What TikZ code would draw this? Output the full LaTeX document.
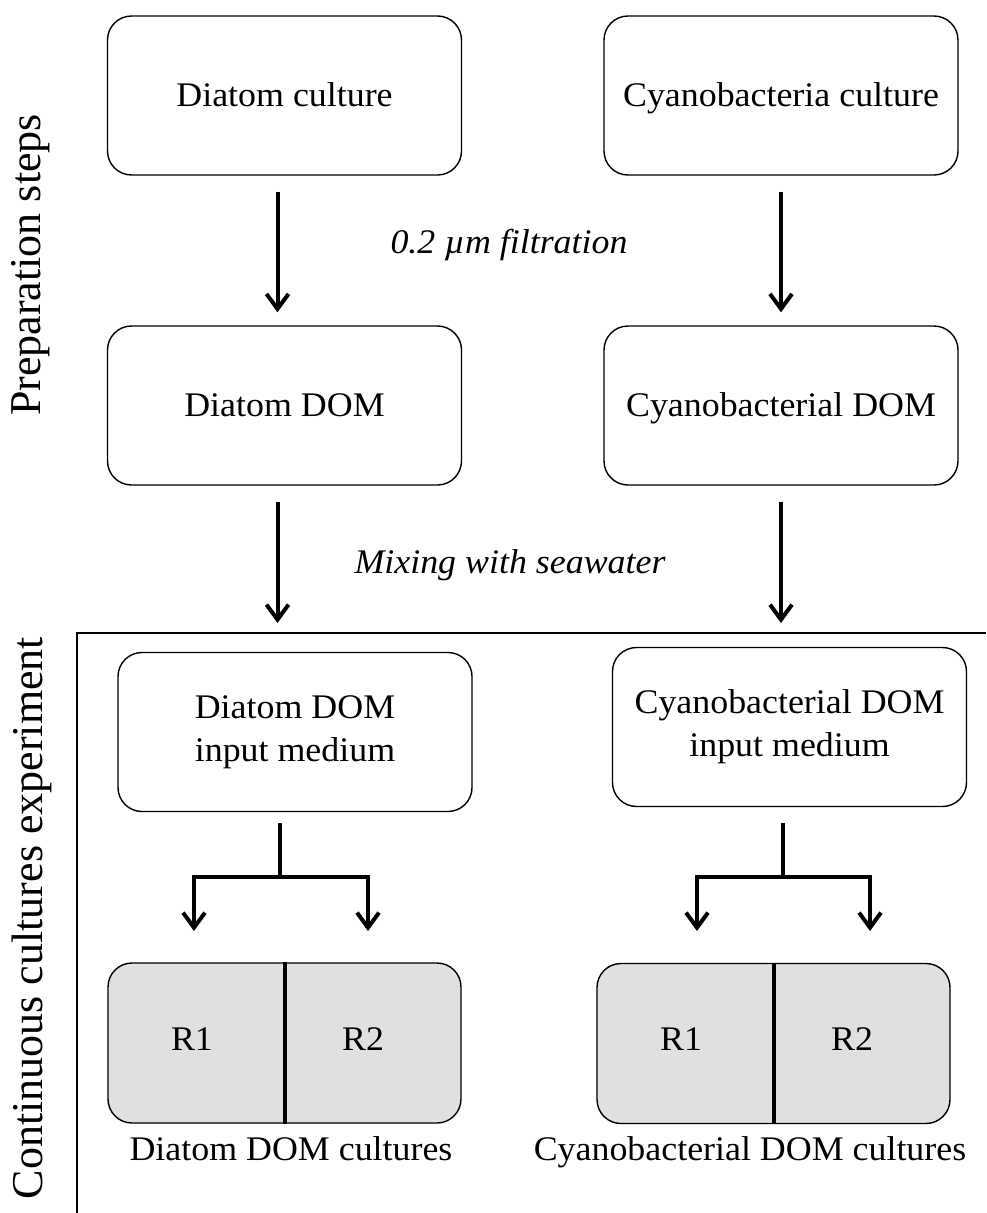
\documentclass[tikz,border=0pt]{standalone}
\usepackage{fontspec}
\setmainfont{Liberation Serif}
\newfontfamily\boxfont[FakeStretch=1.04]{Liberation Serif}
\usetikzlibrary{arrows.meta}
\definecolor{reactorgray}{HTML}{E0E0E0}
\tikzstyle{stage}=[rectangle,draw,rounded corners=24pt,line width=1.4pt,minimum width=354pt,minimum height=159pt,align=center,font=\boxfont\fontsize{34.5}{43}\selectfont]
\tikzstyle{oneline}=[text height=28pt,text depth=6pt]
\tikzstyle{reactor}=[stage,fill=reactorgray,minimum width=353pt,minimum height=160pt]
\tikzstyle{note}=[inner sep=0pt,font=\boxfont\fontsize{34.5}{43}\selectfont]
\tikzstyle{sidelabel}=[rotate=90,inner sep=0pt,font=\fontsize{44}{48}\selectfont]
\tikzstyle{flowarrow}=[line width=4pt,-{Straight Barb[length=15pt,width=22pt]}]
\tikzstyle{point}=[coordinate]

\begin{document}
\begin{tikzpicture}[x=1pt,y=-1pt]
  \useasboundingbox (0,0) rectangle (986,1213);
  % preparation
  \node[stage,oneline] (dcult) at (284.5,95.5) {Diatom culture};
  \node[stage,oneline] (ccult) at (781,95.5) {Cyanobacteria culture};
  \node[stage,oneline,below of=dcult,node distance=310pt] (ddom) {Diatom DOM};
  \node[stage,oneline,below of=ccult,node distance=310pt] (cdom) {Cyanobacterial DOM};
  \node[note,anchor=base] (filt) at (509,253) {\itshape 0.2 µm filtration};
  \node[note,anchor=base] (mix) at (510,573) {\itshape Mixing with seawater};
  \draw[flowarrow,shorten <=16pt,shorten >=13pt] ([xshift=-7pt]dcult.south) -- ([xshift=-7pt]ddom.north);
  \draw[flowarrow,shorten <=16pt,shorten >=13pt] (ccult) -- (cdom);
  \node[point] (dmix) at (277.5,623) {};
  \node[point] (cmix) at (781,623) {};
  \draw[flowarrow,shorten <=16pt] ([xshift=-7pt]ddom.south) -- (dmix);
  \draw[flowarrow,shorten <=16pt] (cdom.south) -- (cmix);
  % experiment frame
  \node[point] (framebl) at (77,1213) {};
  \node[point] (frametl) at (77,633) {};
  \node[point] (frametr) at (986,633) {};
  \draw[line width=1.5pt] (framebl) -- (frametl) -- (frametr);
  \node[stage] (dinp) at (295,732) {Diatom DOM\\input medium};
  \node[stage] (cinp) at (789.5,727) {Cyanobacterial DOM\\input medium};
  % split into the two reactors
  \node[point] (dstem) at (280,823) {};
  \node[point] (dfork) at (280,877) {};
  \node[point] (dtipa) at (194,931) {};
  \node[point] (dtipb) at (368,931) {};
  \draw[line width=4pt] (dstem) -- (dfork);
  \draw[flowarrow] (dfork) -| (dtipa);
  \draw[flowarrow] (dfork) -| (dtipb);
  \node[point] (cstem) at (783,823) {};
  \node[point] (cfork) at (783,877) {};
  \node[point] (ctipa) at (697,931) {};
  \node[point] (ctipb) at (870,931) {};
  \draw[line width=4pt] (cstem) -- (cfork);
  \draw[flowarrow] (cfork) -| (ctipa);
  \draw[flowarrow] (cfork) -| (ctipb);
  % reactors
  \node[reactor] (dcul) at (284.5,1043) {};
  \node[reactor] (ccul) at (773.5,1043.5) {};
  \draw[line width=4pt] (dcul.north) -- (dcul.south);
  \draw[line width=4pt] (ccul.north) -- (ccul.south);
  \node[note] (dr1) at (192,1039) {R1};
  \node[note] (dr2) at (363,1039) {R2};
  \node[note] (cr1) at (681,1039) {R1};
  \node[note] (cr2) at (852,1039) {R2};
  \node[note,anchor=base] (dlab) at (291,1160) {Diatom DOM cultures};
  \node[note,anchor=base] (clab) at (750,1160) {Cyanobacterial DOM cultures};
  % side labels
  \node[sidelabel] (prep) at (31,265) {Preparation steps};
  \node[sidelabel] (cont) at (32,918) {Continuous cultures experiment};
\end{tikzpicture}
\end{document}
